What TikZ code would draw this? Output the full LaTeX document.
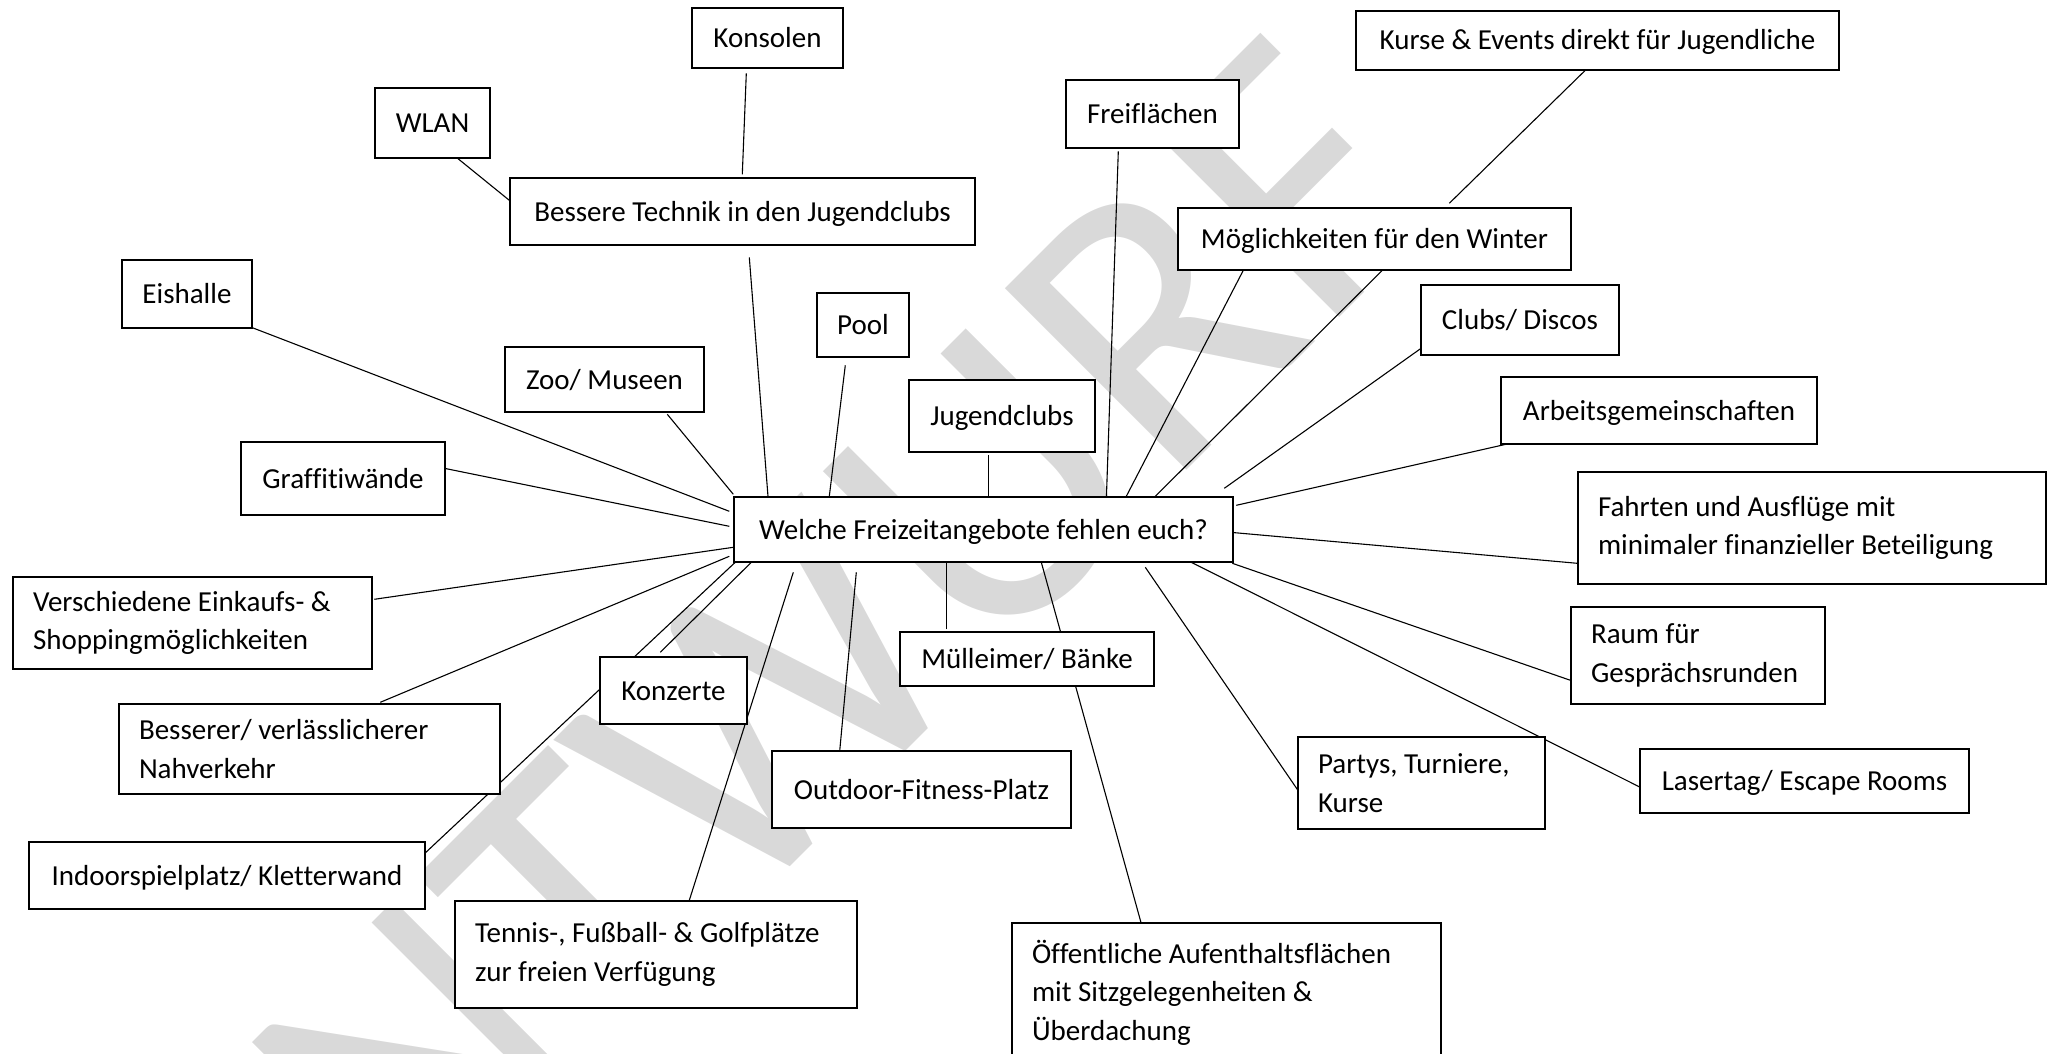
\documentclass[tikz,border=0pt]{standalone}
\usepackage{fontspec}
\setmainfont{Carlito}[Ligatures=CommonOff]
\usetikzlibrary{backgrounds}

\tikzset{
  rahmen/.style={draw, fill=white, line width=1.4pt, inner xsep=20pt, inner ysep=0pt,
    font=\fontsize{29}{38.5}\selectfont},
  idee/.style={rahmen, text height=25pt, text depth=6pt},
  ideelang/.style={rahmen, align=flush left},
  linie/.style={line width=1.1pt},
}

\begin{document}
\begin{tikzpicture}[x=1pt, y=-1pt]
  \useasboundingbox (0,0) rectangle (2058,1054);

  % Frage in der Mitte
  \node[idee, minimum width=499, minimum height=65] (frage) at (983.5,529.5) {Welche Freizeitangebote fehlen euch?};

  % Ideen oben links
  \node[idee, minimum width=151, minimum height=60] (konsolen) at (767.5,38) {Konsolen};
  \node[idee, minimum width=115, minimum height=70] (wlan) at (432.5,123) {WLAN};
  \node[idee, minimum width=465, minimum height=67] (technik) at (742.5,211.5) {Bessere Technik in den Jugendclubs};
  \node[idee, minimum width=130, minimum height=68] (eishalle) at (187,294) {Eishalle};
  \node[idee, minimum width=199, minimum height=65] (zoo) at (604.5,379.5) {Zoo/ Museen};
  \node[idee, minimum width=92, minimum height=64] (pool) at (863,325) {Pool};
  \node[idee, minimum width=186, minimum height=72] (jugendclubs) at (1002,416) {Jugendclubs};
  \node[idee, minimum width=204, minimum height=73] (graffiti) at (343,478.5) {Graffitiwände};

  % Ideen oben rechts
  \node[idee, minimum width=173, minimum height=68] (freiflaechen) at (1152.5,114) {Freiflächen};
  \node[idee, minimum width=483, minimum height=59] (kurse) at (1597.5,40.5) {Kurse \& Events direkt für Jugendliche};
  \node[idee, minimum width=393, minimum height=62] (winter) at (1374.5,239) {Möglichkeiten für den Winter};
  \node[idee, minimum width=198, minimum height=70] (clubs) at (1520,320) {Clubs/ Discos};
  \node[idee, minimum width=316, minimum height=67] (ags) at (1659,410.5) {Arbeitsgemeinschaften};
  \node[ideelang, text width=428, minimum height=112] (fahrten) at (1812,528) {Fahrten und Ausflüge mit\\minimaler finanzieller Beteiligung};

  % Ideen unten rechts
  \node[ideelang, text width=214, minimum height=97] (raum) at (1698,655.5) {Raum für\\Gesprächsrunden};
  \node[idee, minimum width=329, minimum height=64] (lasertag) at (1804.5,781) {Lasertag/ Escape Rooms};
  \node[ideelang, text width=207, minimum height=92] (partys) at (1421.5,783) {Partys, Turniere,\\Kurse};
  \node[ideelang, text width=389, minimum height=139] (oeffentlich) at (1226.5,992.5) {Öffentliche Aufenthaltsflächen\\mit Sitzgelegenheiten \&\\Überdachung};
  \node[idee, minimum width=254, minimum height=54] (muelleimer) at (1027,659) {Mülleimer/ Bänke};
  \node[idee, minimum width=299, minimum height=77] (outdoor) at (921.5,789.5) {Outdoor-Fitness-Platz};

  % Ideen unten links
  \node[idee, minimum width=147, minimum height=67] (konzerte) at (673.5,690.5) {Konzerte};
  \node[ideelang, text width=362, minimum height=107] (tennis) at (656,954.5) {Tennis-, Fußball- \& Golfplätze\\zur freien Verfügung};
  \node[idee, minimum width=396, minimum height=67] (indoor) at (227,875.5) {Indoorspielplatz/ Kletterwand};
  \node[ideelang, text width=341, minimum height=90] (besserer) at (309.5,749) {Besserer/ verlässlicherer\\Nahverkehr};
  \node[ideelang, text width=319, minimum height=92] (einkauf) at (192.5,623) {Verschiedene Einkaufs- \&\\Shoppingmöglichkeiten};

  \begin{pgfonlayer}{background}
    % Wasserzeichen
    \node[rotate=45, text=black!15, font=\fontsize{400}{400}\selectfont, inner sep=0pt] (entwurf) at (773,705) {ENTWURF};

    % Verbindungen
    \draw[linie] ([shift={(82,70)}]wlan.north west) -- ([shift={(0,23)}]technik.north west);
    \draw[linie] ([shift={(55,66)}]konsolen.north west) -- ([shift={(233,-3)}]technik.north west);
    \draw[linie] ([shift={(240,80)}]technik.north west) -- ([shift={(35,4)}]frage.north west);
    \draw[linie] ([shift={(130,68)}]eishalle.north west) -- ([shift={(-4,15)}]frage.north west);
    \draw[linie] ([shift={(204,27)}]graffiti.north west) -- ([shift={(-4,30)}]frage.north west);
    \draw[linie] ([shift={(163,68)}]zoo.north west) -- ([shift={(0,-2)}]frage.north west);
    \draw[linie] ([shift={(29,73)}]pool.north west) -- ([shift={(96,0)}]frage.north west);
    \draw[linie] ([shift={(80,76)}]jugendclubs.north west) -- ([shift={(255,4)}]frage.north west);
    \draw[linie] ([shift={(53,72)}]freiflaechen.north west) -- ([shift={(373,4)}]frage.north west);
    \draw[linie] ([shift={(66,63)}]winter.north west) -- ([shift={(393,0)}]frage.north west);
    \draw[linie] ([shift={(205,63)}]winter.north west) -- ([shift={(422,0)}]frage.north west);
    \draw[linie] ([shift={(231,59)}]kurse.north west) -- ([shift={(272,-4)}]winter.north west);
    \draw[linie] ([shift={(5,61)}]clubs.north west) -- ([shift={(491,-8)}]frage.north west);
    \draw[linie] ([shift={(10,67)}]ags.north west) -- ([shift={(503,9)}]frage.north west);
    \draw[linie] ([shift={(0,92)}]fahrten.north west) -- ([shift={(497,36)}]frage.north west);
    \draw[linie] ([shift={(3,75)}]raum.north west) -- ([shift={(499,67)}]frage.north west);
    \draw[linie] ([shift={(3,40)}]lasertag.north west) -- ([shift={(458,66)}]frage.north west);
    \draw[linie] ([shift={(2,56)}]partys.north west) -- ([shift={(412,71)}]frage.north west);
    \draw[linie] ([shift={(131,5)}]oeffentlich.north west) -- ([shift={(308,66)}]frage.north west);
    \draw[linie] ([shift={(47,-2)}]muelleimer.north west) -- ([shift={(213,65)}]frage.north west);
    \draw[linie] ([shift={(68,5)}]outdoor.north west) -- ([shift={(123,76)}]frage.north west);
    \draw[linie] ([shift={(235,0)}]tennis.north west) -- ([shift={(60,76)}]frage.north west);
    \draw[linie] ([shift={(61,-4)}]konzerte.north west) -- ([shift={(18,66)}]frage.north west);
    \draw[linie] ([shift={(388,20)}]indoor.north west) -- ([shift={(3,65)}]frage.north west);
    \draw[linie] ([shift={(262,-1)}]besserer.north west) -- ([shift={(-4,60)}]frage.north west);
    \draw[linie] ([shift={(362,23)}]einkauf.north west) -- ([shift={(0,51)}]frage.north west);
  \end{pgfonlayer}
\end{tikzpicture}
\end{document}
